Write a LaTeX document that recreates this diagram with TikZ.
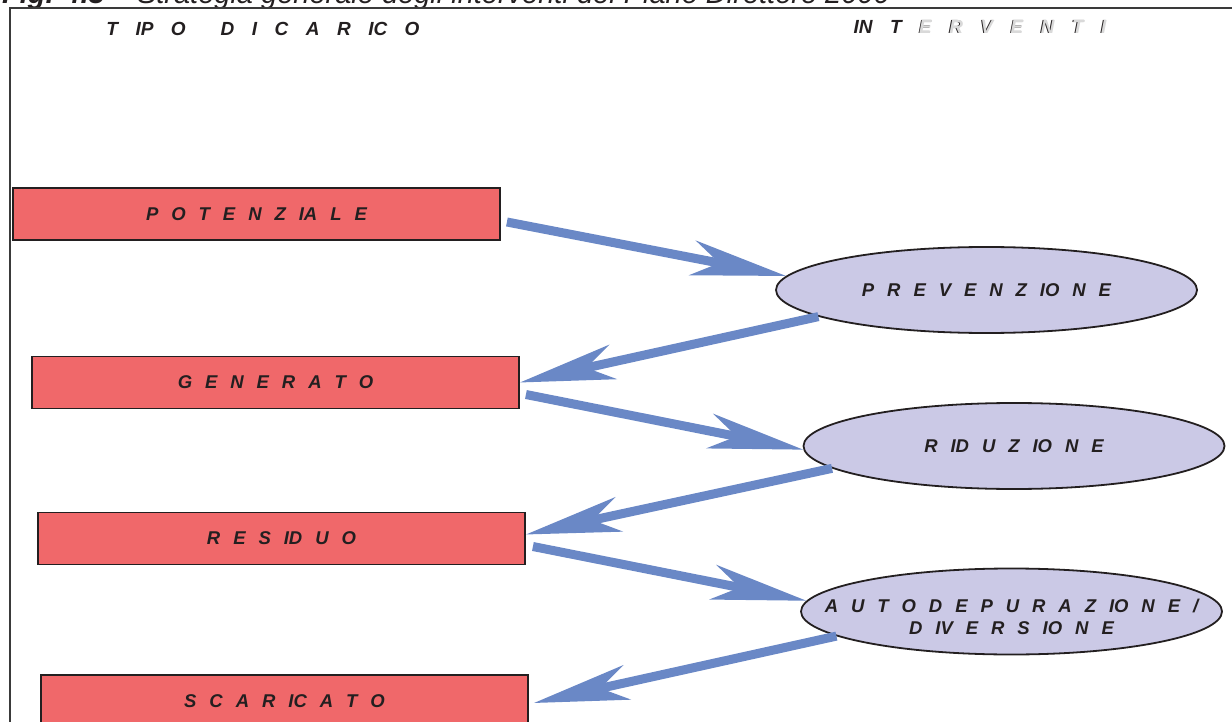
\documentclass[tikz,border=0pt]{standalone}
\usepackage{fontspec}
\setmainfont{Liberation Sans}
\usetikzlibrary{arrows.meta,shapes.geometric}
\definecolor{pdRed}{HTML}{F0686A}
\definecolor{pdLilac}{HTML}{CBC9E6}
\definecolor{pdBlue}{HTML}{6A88C6}
\definecolor{pdInk}{HTML}{231F20}
\definecolor{pdGray}{HTML}{3A3A3A}
% spaced bold oblique capitals, used for every label
\newcommand{\pdcapsfont}{\fontsize{18.5}{22.5}\selectfont\bfseries\itshape\spaceskip 0.7em\relax}
\newcommand{\pdheadfont}{\fontsize{19}{23}\selectfont\bfseries\itshape\spaceskip 0.92em\relax}
\tikzset{
  pd/caps/.style={font=\pdcapsfont, text=pdInk, inner sep=0pt},
  % kind of load (left column)
  pd/load/.style={
    pd/caps, draw=pdInk, fill=pdRed, line width=1.8pt,
    minimum width=487pt, minimum height=52pt
  },
  % intervention (right column)
  pd/act/.style={
    pd/caps, ellipse, draw=pdInk, fill=pdLilac, line width=1.8pt,
    minimum width=421pt, minimum height=86pt, align=center
  },
  % column headings
  pd/head/.style={pd/caps, font=\pdheadfont},
  pd/caption/.style={
    font=\fontsize{29}{34}\selectfont\itshape, text=pdInk, inner sep=0pt
  },
  pd/frame/.style={draw=pdGray, line width=1.4pt},
  % wide blue arrows between the two columns
  pd/flow/.style={
    -{Stealth[length=95pt,width=35pt,inset=27pt]}, draw=pdBlue, line width=9pt
  },
}
% light letters with a dark edge
\newcommand{\embossed}[1]{%
  \rlap{\kern-0.9pt\raisebox{-0.5pt}{\textcolor{pdInk}{#1}}}\textcolor{gray!30}{#1}}

\begin{document}
\begin{tikzpicture}[x=1pt, y=-1pt]
\useasboundingbox (0,0) rectangle (1232,722);

\node[pd/caption, anchor=base west] (cap) at (2,4)
     {\textbf{Fig. 4.3} -- Strategia generale degli interventi del Piano Direttore 2000};
\draw[pd/frame] (10,722) |- (1232,8);

\node[pd/head] (hload) at (263,29) {T IP O \ D I C A R IC O};
\node[pd/head] (hact) at (980,27) {IN T \embossed{E R V E N T I}};

% left column
\node[pd/load] (pot) at (256.5,214)   {P O T E N Z IA L E};
\node[pd/load] (gen) at (275.5,382.5) {G E N E R A T O};
\node[pd/load] (res) at (281.5,538.5) {R E S ID U O};
\node[pd/load] (sca) at (284.5,701)   {S C A R IC A T O};

% right column
\node[pd/act] (prev) at (986.5,290)   {P R E V E N Z IO N E};
\node[pd/act] (rid)  at (1014,446)    {R ID U Z IO N E};
\node[pd/act, inner xsep=-52pt] (auto) at (1011.5,611.5)
     {\rule{0pt}{24pt}A U T O D E P U R A Z IO N E /\\D IV E R S IO N E};

\draw[pd/flow] ([xshift=6pt,yshift=-8pt]pot.east) -- (prev.176);
\draw[pd/flow] (prev.189) -- (gen.east);
\draw[pd/flow] ([xshift=6pt,yshift=-12pt]gen.east) -- (rid.181);
\draw[pd/flow] (rid.187) -- ([yshift=4pt]res.east);
\draw[pd/flow] ([xshift=7pt,yshift=-8pt]res.east) -- (auto.177);
\draw[pd/flow] (auto.188) -- ([xshift=5pt,yshift=-2pt]sca.east);
\end{tikzpicture}
\end{document}
